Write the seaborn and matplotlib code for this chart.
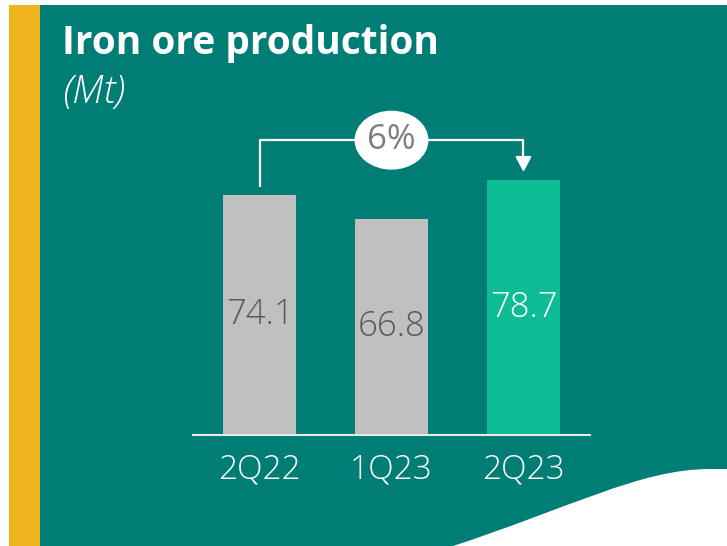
import matplotlib
matplotlib.use("Agg")
import matplotlib.pyplot as plt
from matplotlib.patches import Rectangle, Ellipse, PathPatch
from matplotlib.path import Path
import seaborn as sns
import pandas as pd

# Data
quarters = ["2Q22", "1Q23", "2Q23"]
production = [74.1, 66.8, 78.7]
change_label = "6%"
title = "Iron ore production"
unit = "(Mt)"

# Styling
TEAL = "#007D75"
YELLOW = "#EFB320"
GRAY_BAR = "#C0C0C0"
GREEN_BAR = "#0DBB95"
LABEL_DARK = "#5A5A5A"
bar_colors = [GRAY_BAR, GRAY_BAR, GREEN_BAR]
label_colors = [LABEL_DARK, LABEL_DARK, "white"]

sns.set_theme(style="white")
plt.rcParams["font.family"] = ["Open Sans", "DejaVu Sans"]

W, H = 727, 546
fig = plt.figure(figsize=(W / 100, H / 100), dpi=100)
fig.patch.set_facecolor("white")

# Background panel in pixel coordinates
bg = fig.add_axes([0, 0, 1, 1], zorder=0)
bg.set_xlim(0, W)
bg.set_ylim(H, 0)
bg.axis("off")
bg.add_patch(Rectangle((40, 5), W - 40, H - 5, facecolor=TEAL, edgecolor="none"))
bg.add_patch(Rectangle((9, 5), 31, H - 5, facecolor=YELLOW, edgecolor="none"))

# White wave in the lower right corner
wave = Path(
    [(450, 547), (570, 508), (640, 469), (710, 469), (728, 469), (728, 547), (450, 547)],
    [Path.MOVETO, Path.CURVE4, Path.CURVE4, Path.CURVE4, Path.LINETO, Path.LINETO, Path.CLOSEPOLY],
)
bg.add_patch(PathPatch(wave, facecolor="white", edgecolor="none"))

bg.text(62, 54, title, color="white", fontsize=28, fontweight="bold", va="baseline", ha="left")
bg.text(62, 103, unit, color="white", fontsize=28, fontstyle="italic", fontweight="light",
        va="baseline", ha="left")

# Chart axes: baseline at y=435 px, 132 px between bar centres
x0_px, x1_px = 193, 590
y0_px = 435
xlim = (-0.504, 2.504)
ylim = (0, 100)
px_per_unit = 3.24
ax_h = (ylim[1] - ylim[0]) * px_per_unit
ax = fig.add_axes([x0_px / W, (H - y0_px) / H, (x1_px - x0_px) / W, ax_h / H], zorder=1)
ax.patch.set_alpha(0)

df = pd.DataFrame({"quarter": quarters, "production": production})
sns.barplot(data=df, x="quarter", y="production", hue="quarter", palette=bar_colors,
            width=0.553, saturation=1, legend=False, linewidth=0, edgecolor="none", ax=ax)
ax.set_xlim(*xlim)
ax.set_ylim(*ylim)
ax.set_xlabel("")
ax.set_ylabel("")
ax.set_yticks([])
for side in ["top", "right", "left"]:
    ax.spines[side].set_visible(False)
ax.spines["bottom"].set_color("#E8E8E8")
ax.spines["bottom"].set_linewidth(1.5)
ax.tick_params(axis="x", length=0, pad=13, labelsize=24, labelcolor="white")
for lbl in ax.get_xticklabels():
    lbl.set_fontweight("light")

# Value labels inside the bars
for i, (v, c) in enumerate(zip(production, label_colors)):
    ax.text(i, v / 2, f"{v:.1f}", ha="center", va="center", fontsize=25,
            color=c, fontweight="light")

# Change connector from first to last bar
gap = 2.5
top_y = 91.0
first, last = 0, len(production) - 1
ax.plot([first, first, last, last], [production[first] + gap, top_y, top_y, production[last] + gap + 4.5],
        color="white", lw=1.6, solid_capstyle="butt", clip_on=False)
ax.annotate("", xy=(last, production[last] + gap), xytext=(last, production[last] + gap + 4.6),
            arrowprops=dict(arrowstyle="-|>,head_length=0.75,head_width=0.4", color="white",
                            lw=1.6, shrinkA=0, shrinkB=0), annotation_clip=False)
ax.add_patch(Ellipse(((first + last) / 2, top_y), 0.56, 18.2, facecolor="white",
                     edgecolor="none", clip_on=False, zorder=3))
ax.text((first + last) / 2, top_y, change_label, ha="center", va="center", fontsize=25,
        color="#7F7F7F", zorder=4)

fig.savefig("out.png", dpi=100, facecolor=fig.get_facecolor())
